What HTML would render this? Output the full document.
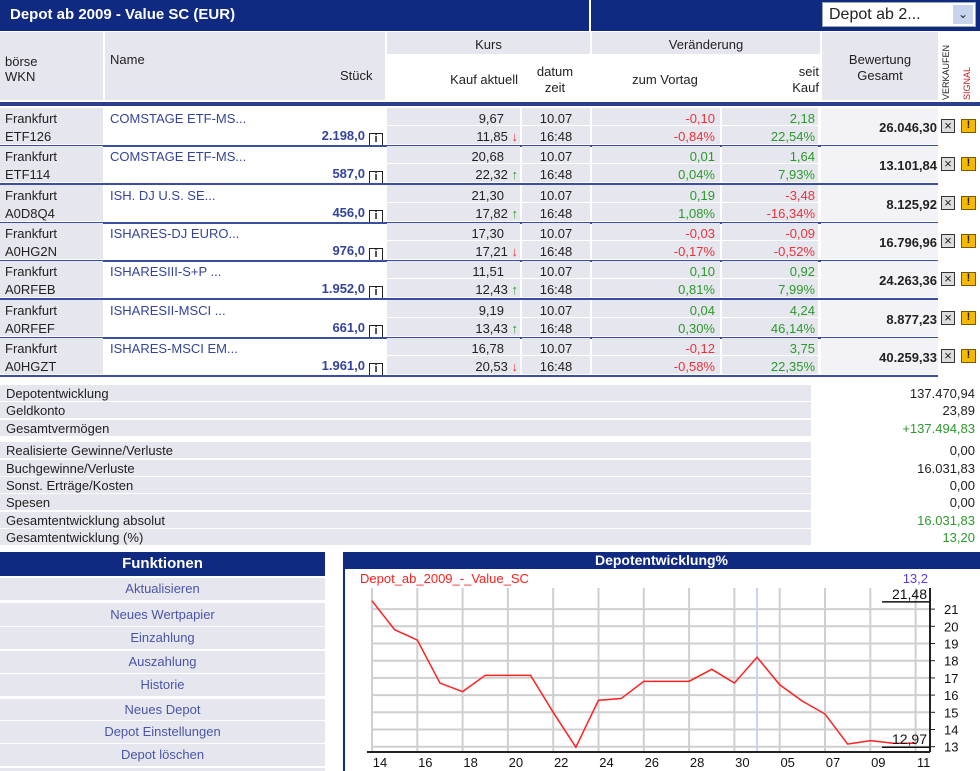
<!DOCTYPE html>
<html><head><meta charset="utf-8">
<style>
*{box-sizing:border-box;margin:0;padding:0}
body{width:980px;height:771px;position:relative;background:#fff;font-family:"Liberation Sans",Arial,sans-serif;font-size:13px;color:#222;overflow:hidden}
.a{position:absolute}
.g{background:#e6e6ee}
.hb{background:#102a82}
.r{text-align:right}
.c{text-align:center}
.blue{color:#34449a}
.red{color:#e8323c}
.grn{color:#2a9a2a}
.ib{display:inline-block;width:14px;height:14px;border:1.5px solid #222;background:#fff;font-size:11px;line-height:11px;text-align:center;font-weight:bold;vertical-align:-2px;margin-left:4px;color:#222}
.btn{position:absolute;left:0;width:325px;background:#e6e6ee;color:#4a55a8;text-align:center;font-size:13px}
</style></head><body>
<div class="a hb" style="left:0;top:0;width:980px;height:31px"></div>
<div class="a" style="left:10px;top:6px;color:#fff;font-weight:bold;font-size:15px">Depot ab 2009 - Value SC (EUR)</div>
<div class="a" style="left:589px;top:0;width:2px;height:31px;background:#fff"></div>
<div class="a" style="left:822px;top:2px;width:154px;height:25px;background:#fff;border:1px solid #9aa;font-size:16px;padding:3px 0 0 6px">Depot ab 2...<span style="position:absolute;right:2px;top:2px;width:20px;height:19px;background:#c8d4ee;font-size:12px;text-align:center;line-height:19px">&#8964;</span></div>

<div class="a g" style="left:0;top:32px;width:103px;height:68px"></div>
<div class="a" style="left:5px;top:54px;line-height:15px">börse<br>WKN</div>
<div class="a g" style="left:105px;top:32px;width:280px;height:68px"></div>
<div class="a" style="left:110px;top:52px">Name</div>
<div class="a" style="left:340px;top:68px">Stück</div>
<div class="a g" style="left:387px;top:32px;width:203px;height:22px"></div>
<div class="a c" style="left:387px;top:37px;width:203px">Kurs</div>
<div class="a r" style="left:387px;top:72px;width:131px">Kauf aktuell</div>
<div class="a c" style="left:522px;top:64px;width:66px;line-height:16px">datum<br>zeit</div>
<div class="a g" style="left:592px;top:32px;width:228px;height:22px"></div>
<div class="a c" style="left:592px;top:37px;width:228px">Veränderung</div>
<div class="a c" style="left:600px;top:72px;width:130px">zum Vortag</div>
<div class="a r" style="left:724px;top:64px;width:95px;line-height:16px">seit<br>Kauf</div>
<div class="a g" style="left:822px;top:32px;width:116px;height:68px"></div>
<div class="a c" style="left:822px;top:52px;width:116px;line-height:16px">Bewertung<br>Gesamt</div>
<div class="a" style="left:941px;top:100px;transform:rotate(-90deg);transform-origin:0 0;font-size:9px;width:66px">VERKAUFEN</div>
<div class="a" style="left:962px;top:100px;transform:rotate(-90deg);transform-origin:0 0;font-size:9px;color:#b22;width:44px">SIGNAL</div>
<div class="a" style="left:0;top:102px;width:980px;height:4px;background:#2a3f8f"></div>

<div id="rows"></div>
<div id="sum"></div>

<div class="a hb c" style="left:0;top:552px;width:325px;height:24px;color:#fff;font-weight:bold;font-size:15px;line-height:24px">Funktionen</div>
<div class="btn" style="top:578px;height:22px;line-height:22px">Aktualisieren</div>
<div class="btn" style="top:603px;height:23px;line-height:23px">Neues Wertpapier</div>
<div class="btn" style="top:627px;height:22px;line-height:22px">Einzahlung</div>
<div class="btn" style="top:651px;height:22px;line-height:22px">Auszahlung</div>
<div class="btn" style="top:674px;height:22px;line-height:22px">Historie</div>
<div class="btn" style="top:699px;height:21px;line-height:21px">Neues Depot</div>
<div class="btn" style="top:721px;height:22px;line-height:22px">Depot Einstellungen</div>
<div class="btn" style="top:744px;height:22px;line-height:22px">Depot löschen</div>
<div class="btn" style="top:768px;height:3px"></div>

<div class="a hb c" style="left:343px;top:552px;width:637px;height:17px;color:#fff;font-weight:bold;font-size:14px;line-height:17px">Depotentwicklung%</div>
<div class="a" style="left:343px;top:569px;width:2px;height:202px;background:#102a82"></div>
<svg class="a" id="chart" style="left:345px;top:569px" width="635" height="202"></svg>

<script>
const names=["COMSTAGE ETF-MS...","COMSTAGE ETF-MS...","ISH. DJ U.S. SE...","ISHARES-DJ EURO...","ISHARESIII-S+P ...","ISHARESII-MSCI ...","ISHARES-MSCI EM..."];
const wkns=["ETF126","ETF114","A0D8Q4","A0HG2N","A0RFEB","A0RFEF","A0HGZT"];
const stueck=["2.198,0","587,0","456,0","976,0","1.952,0","661,0","1.961,0"];
const kauf=["9,67","20,68","21,30","17,30","11,51","9,19","16,78"];
const aktuell=["11,85","22,32","17,82","17,21","12,43","13,43","20,53"];
const arrows=["down","up","up","down","up","up","down"];
const vortag=["-0,10","0,01","0,19","-0,03","0,10","0,04","-0,12"];
const vortagPct=["-0,84%","0,04%","1,08%","-0,17%","0,81%","0,30%","-0,58%"];
const seit=["2,18","1,64","-3,48","-0,09","0,92","4,24","3,75"];
const seitPct=["22,54%","7,93%","-16,34%","-0,52%","7,99%","46,14%","22,35%"];
const bew=["26.046,30","13.101,84","8.125,92","16.796,96","24.263,36","8.877,23","40.259,33"];
const rowsEl=document.getElementById('rows');
function colCls(v){return v.startsWith('-')?'red':'grn';}
let h='';
for(let i=0;i<7;i++){
 const t=108+i*38.3;
 const arr=arrows[i]==='up'?'<span class="grn">&#8593;</span>':'<span class="red">&#8595;</span>';
 h+=`<div class="a" style="left:0;top:${t}px;width:980px;height:38px">
 <div class="a g" style="left:0;top:0;width:103px;height:36px"></div>
 <div class="a" style="left:5px;top:3px">Frankfurt</div>
 <div class="a" style="left:5px;top:21px">${wkns[i]}</div>
 <div class="a blue" style="left:110px;top:3px">${names[i]}</div>
 <div class="a r blue" style="left:240px;top:20px;width:143px;font-weight:bold">${stueck[i]}<span class="ib">i</span></div>
 <div class="a g" style="left:387px;top:0;width:133px;height:17px"></div><div class="a g" style="left:387px;top:18px;width:133px;height:18px"></div>
 <div class="a r" style="left:387px;top:3px;width:117px">${kauf[i]}</div>
 <div class="a r" style="left:387px;top:21px;width:131px">${aktuell[i]} ${arr}</div>
 <div class="a g" style="left:522px;top:0;width:68px;height:17px"></div><div class="a g" style="left:522px;top:18px;width:68px;height:18px"></div>
 <div class="a c" style="left:522px;top:3px;width:68px">10.07</div>
 <div class="a c" style="left:522px;top:21px;width:68px">16:48</div>
 <div class="a g" style="left:592px;top:0;width:128px;height:17px"></div><div class="a g" style="left:592px;top:18px;width:128px;height:18px"></div>
 <div class="a r ${colCls(vortag[i])}" style="left:592px;top:3px;width:123px">${vortag[i]}</div>
 <div class="a r ${colCls(vortagPct[i])}" style="left:592px;top:21px;width:123px">${vortagPct[i]}</div>
 <div class="a g" style="left:722px;top:0;width:96px;height:17px"></div><div class="a g" style="left:722px;top:18px;width:96px;height:18px"></div>
 <div class="a r ${colCls(seit[i])}" style="left:722px;top:3px;width:93px">${seit[i]}</div>
 <div class="a r ${colCls(seitPct[i])}" style="left:722px;top:21px;width:93px">${seitPct[i]}</div>
 <div class="a" style="left:821px;top:0;width:117px;height:36px;background:#f3f3f7"></div>
 <div class="a r" style="left:821px;top:12px;width:116px;font-weight:bold">${bew[i]}</div>
 <div class="a" style="left:941px;top:11px;width:14px;height:14px;border:1.5px solid #333;background:#ddd;font-size:13px;line-height:11px;text-align:center">&#215;</div>
 <div class="a" style="left:961px;top:11px;width:15px;height:14px;border:1.5px solid #7a5a00;background:#f6b800;font-size:11px;line-height:11px;text-align:center;font-weight:bold">!</div>
 <div class="a" style="left:0;top:37px;width:938px;height:2px;background:#3a4f9f"></div>
 </div>`;
}
rowsEl.innerHTML=h;

const sumLabels=["Depotentwicklung","Geldkonto","Gesamtvermögen","Realisierte Gewinne/Verluste","Buchgewinne/Verluste","Sonst. Erträge/Kosten","Spesen","Gesamtentwicklung absolut","Gesamtentwicklung (%)"];
const sumVals=["137.470,94","23,89","+137.494,83","0,00","16.031,83","0,00","0,00","16.031,83","13,20"];
const sumCol=["#222","#222","#2a9a2a","#222","#222","#222","#222","#2a9a2a","#2a9a2a"];
let sh='';
for(let i=0;i<9;i++){
 const t=385+i*17.4+(i>=3?5:0);
 sh+=`<div class="a g" style="left:0;top:${t}px;width:811px;height:16px"></div>
 <div class="a" style="left:6px;top:${t+1}px">${sumLabels[i]}</div>
 <div class="a r" style="left:820px;top:${t+1}px;width:155px;color:${sumCol[i]}">${sumVals[i]}</div>`;
}
document.getElementById('sum').innerHTML=sh;

const xLabels=["14","16","18","20","22","24","26","28","30","05","07","09","11"];
const yTicks=[13,14,15,16,17,18,19,20,21];
const values=[21.48,19.8,19.2,16.7,16.2,17.15,17.15,17.15,15.0,12.97,15.7,15.8,16.8,16.8,16.8,17.5,16.7,18.2,16.6,15.65,14.9,13.15,13.35,13.2,13.2];
const ox=345,oy=569;
function X(i){return 372+i*22.65-ox;}
function Y(v){return 746.7-(v-13)*17.2-oy;}
const svg=document.getElementById('chart');
const NS='http://www.w3.org/2000/svg';
function add(tag,attrs,txt){const e=document.createElementNS(NS,tag);for(const k in attrs)e.setAttribute(k,attrs[k]);if(txt!==undefined)e.textContent=txt;svg.appendChild(e);return e;}
const plotTop=588-oy,plotBot=752-oy,plotRight=930-ox;
for(let i=0;i<xLabels.length;i++){
 const g=add('line',{x1:X(2*i),x2:X(2*i),y1:plotTop,y2:plotBot,stroke:'#cfcfcf','stroke-width':2});
 
 
 const t=add('text',{x:X(2*i)+8,y:plotBot+15,'text-anchor':'middle','font-size':13,fill:'#111','font-family':'Liberation Sans, sans-serif'},xLabels[i]);
 
 
}
for(const v of yTicks){
 const g=add('line',{x1:X(0),x2:plotRight,y1:Y(v),y2:Y(v),stroke:'#cfcfcf','stroke-width':2});
 
 
 add('line',{x1:plotRight,x2:plotRight+5,y1:Y(v),y2:Y(v),stroke:'#222'});
 const t=add('text',{x:plotRight+14,y:Y(v)+5,'font-size':13,fill:'#111','font-family':'Liberation Sans, sans-serif'},String(v));
 
 
}
const hl=add('line',{x1:X(17),x2:X(17),y1:plotTop,y2:plotBot,stroke:'#c8d2f4','stroke-width':2});


add('line',{x1:plotRight,x2:plotRight,y1:plotTop,y2:plotBot,stroke:'#222','stroke-width':2});
add('line',{x1:X(0)-5,x2:plotRight,y1:plotBot,y2:plotBot,stroke:'#222','stroke-width':2});
const pts=values.map((v,i)=>X(i)+','+Y(v)).join(' ');
const pl=add('polyline',{points:pts,fill:'none',stroke:'#ff2020','stroke-width':1.5});


const lg=add('text',{x:15,y:14,'font-size':13,fill:'#ff2020','font-family':'Liberation Sans, sans-serif'},'Depot_ab_2009_-_Value_SC');


const cv=add('text',{x:583,y:14,'text-anchor':'end','font-size':13,fill:'#5a3ae8','font-family':'Liberation Sans, sans-serif'},'13,2');


const mx=Math.max(...values),mn=Math.min(...values);
const mxl=add('text',{x:582,y:Y(mx)-2,'text-anchor':'end','font-size':14,fill:'#111','font-family':'Liberation Sans, sans-serif'},mx.toFixed(2).replace('.',','));


add('line',{x1:537,x2:plotRight,y1:Y(mx)+1,y2:Y(mx)+1,stroke:'#111','stroke-width':1.5});
const mnl=add('text',{x:582,y:Y(mn)-3,'text-anchor':'end','font-size':14,fill:'#111','font-family':'Liberation Sans, sans-serif'},mn.toFixed(2).replace('.',','));


add('line',{x1:537,x2:plotRight,y1:Y(mn),y2:Y(mn),stroke:'#111','stroke-width':1.5});
</script>
</body></html>
